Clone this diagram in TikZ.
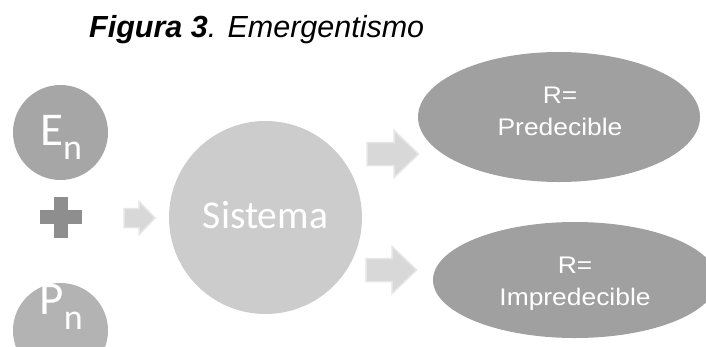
\documentclass[tikz,border=0pt]{standalone}
\usepackage{fontspec}
\setmainfont{Liberation Sans}
\newfontfamily\calib{Carlito}
\newfontfamily\widesans[FakeStretch=1.1]{Liberation Sans}
\usetikzlibrary{shapes.geometric}
\definecolor{cE}{HTML}{A6A6A6}
\definecolor{cP}{HTML}{B3B3B3}
\definecolor{cPlus}{HTML}{8E8E8E}
\definecolor{cS}{HTML}{CCCCCC}
\definecolor{cR}{HTML}{A0A0A0}
\definecolor{cArr}{HTML}{D8D8D8}
\definecolor{cArrEdge}{HTML}{E6E6E6}
\begin{document}
\begin{tikzpicture}[x=1pt,y=-1pt,
  dot/.style={circle,inner sep=0pt,draw=none},
  oval/.style={ellipse,inner sep=0pt,draw=none,fill=cR,minimum width=282pt},
  wtext/.style={inner sep=0pt,text=white},
  rtext/.style={wtext,align=center,font=\widesans\fontsize{24}{32}\selectfont},
  arr/.style={fill=cArr,draw=cArrEdge,line width=1.5pt,line join=miter}]
\useasboundingbox (0,0) rectangle (706,346);
\clip (0,0) rectangle (706,346);
\fill[white] (0,0) rectangle (706,346);

% title
\node[anchor=base west,inner sep=0pt,font=\fontsize{30.5}{36}\selectfont] (title) at (89,37)
  {\textbf{\textit{Figura 3}}\textit{. Emergentismo}};

% E_n and P_n
\node[dot,fill=cE,minimum size=95pt] (en) at (60.5,132.5) {};
\node[wtext,anchor=base west,font=\calib\fontsize{47}{47}\selectfont] (entxt) at (40,145)
  {E\raisebox{-14pt}{\fontsize{36}{36}\selectfont n}};
\node[dot,fill=cP,minimum size=95pt] (pn) at (60.5,330.5) {};
\node[wtext,anchor=base west,font=\calib\fontsize{47}{47}\selectfont] (pntxt) at (39.5,314)
  {P\raisebox{-15pt}{\fontsize{36}{36}\selectfont n}};

% plus sign
\coordinate (plus) at (61,217.3);
\fill[cPlus] ([xshift=-7pt,yshift=20.5pt]plus) rectangle ([xshift=7pt,yshift=-20.5pt]plus);
\fill[cPlus] ([xshift=-21pt,yshift=7pt]plus) rectangle ([xshift=21pt,yshift=-7pt]plus);

% Sistema
\node[dot,fill=cS,minimum size=193pt] (sis) at (265.5,217.5) {};
\node[wtext,anchor=base,font=\calib\fontsize{39.5}{40}\selectfont] (sistxt) at (265.5,228) {Sistema};

% block arrows
\draw[arr,shift={(124,218)}] (0,-9.5) -- (15,-9.5) -- (15,-16.5) -- (31,0) -- (15,16.5) -- (15,9.5) -- (0,9.5) -- cycle;
\draw[arr,shift={(367,154)}] (0,-11.5) -- (27,-11.5) -- (27,-23.5) -- (51.5,0) -- (27,23.5) -- (27,11.5) -- (0,11.5) -- cycle;
\draw[arr,shift={(366,270)}] (0,-11.5) -- (26,-11.5) -- (26,-23.5) -- (50.5,0) -- (26,23.5) -- (26,11.5) -- (0,11.5) -- cycle;

% results
\node[oval,minimum height=130pt] (rp) at (559,117) {};
\node[rtext] (rptxt) at (560,111.5) {R=\\Predecible};
\node[oval,minimum width=284pt,minimum height=116pt] (ri) at (575,280) {};
\node[rtext] (ritxt) at (575,283.5) {R=\\Impredecible};
\end{tikzpicture}
\end{document}
